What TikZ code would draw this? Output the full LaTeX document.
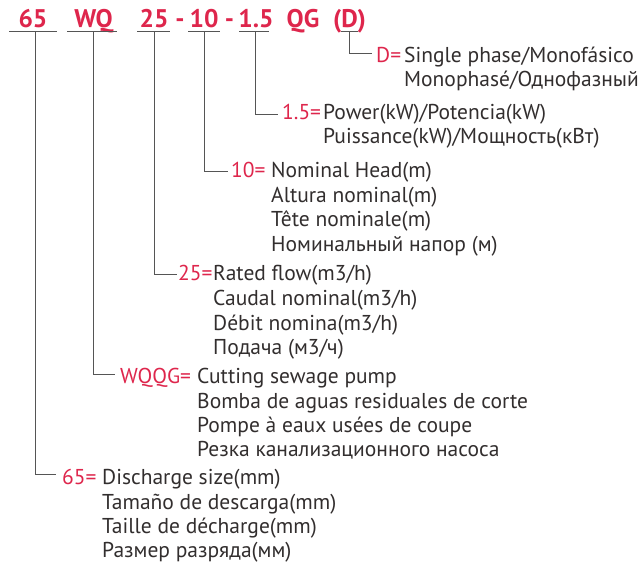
\documentclass[tikz,border=0pt]{standalone}
\usepackage{fontspec}
\setmainfont{PT Sans}
\definecolor{codered}{RGB}{222,38,76}
\definecolor{txt}{RGB}{50,46,46}
\definecolor{ln}{RGB}{85,85,85}
\begin{document}
\begin{tikzpicture}[x=1pt,y=-1pt,
  hdr/.style={font=\fontsize{25.5}{25.5}\selectfont\bfseries, text=codered, anchor=base, inner sep=0},
  lab/.style={font=\fontsize{21.5}{21.5}\selectfont, text=codered, anchor=base west, inner sep=0},
  desc/.style={font=\fontsize{21.5}{21.5}\selectfont, text=txt, anchor=base west, inner sep=0},
  conn/.style={draw=ln, line width=1pt},
]
\useasboundingbox (0,0) rectangle (644,563);

% header
\node[hdr] (h65) at (33,27) {65};
\node[hdr] (hWQ) at (93.5,27) {WQ};
\node[hdr] (h25) at (154,27) {25};
\node[hdr] (hd1) at (180,27) {-};
\node[hdr] (h10) at (204,27) {10};
\node[hdr] (hd2) at (229.5,27) {-};
\node[hdr] (h15) at (256,27) {1.5};
\node[hdr] (hQG) at (303,27) {QG};
\node[hdr] (hD) at (349.5,27) {(D)};

% underlines
\draw[conn] (9,31) -- (57,31);
\draw[conn] (67,31) -- (117,31);
\draw[conn] (137,31) -- (170,31);
\draw[conn] (188,31) -- (220,31);
\draw[conn] (239,31) -- (269,31);
\draw[conn] (341,31) -- (358,31);
\coordinate (u65) at (35,31);
\coordinate (uWQ) at (93,31);
\coordinate (u25) at (154,31);
\coordinate (u10) at (204,31);
\coordinate (u15) at (255,31);
\coordinate (uD) at (349,31);

% D row
\node[lab] (rD) at (376,62) {D=};
\node[desc] (dD1) at (404,62) {Single phase/Monofásico};
\node[desc] (dD2) at (404,86) {Monophasé/Однофазный};
\draw[conn] (uD) |- ([xshift=-4pt,yshift=9pt]rD.base west);

% 1.5 row
\node[lab] (r15) at (282,119) {1.5=};
\node[desc] (d151) at (323,119) {Power(kW)/Potencia(kW)};
\node[desc] (d152) at (323,143) {Puissance(kW)/Мощность(кВт)};
\draw[conn] (u15) |- ([xshift=-4pt,yshift=5pt]r15.base west);

% 10 row
\node[lab] (r10) at (231,177) {10=};
\node[desc] (d101) at (271,177) {Nominal Head(m)};
\node[desc] (d102) at (271,202) {Altura nominal(m)};
\node[desc] (d103) at (271,226) {Tête nominale(m)};
\node[desc] (d104) at (271,251) {Номинальный напор (м)};
\draw[conn] (u10) |- ([xshift=-3pt,yshift=6pt]r10.base west);

% 25 row
\node[lab] (r25) at (178,280) {25=};
\node[desc] (d251) at (213,280) {Rated flow(m3/h)};
\node[desc] (d252) at (213,305) {Caudal nominal(m3/h)};
\node[desc] (d253) at (213,330) {Débit nomina(m3/h)};
\node[desc] (d254) at (213,354) {Подача (м3/ч)};
\draw[conn] (u25) |- ([xshift=-1pt,yshift=6pt]r25.base west);

% WQQG row
\node[lab] (rWQ) at (120,383) {WQQG=};
\node[desc] (dWQ1) at (197,383) {Cutting sewage pump};
\node[desc] (dWQ2) at (197,408) {Bomba de aguas residuales de corte};
\node[desc] (dWQ3) at (197,432) {Pompe à eaux usées de coupe};
\node[desc] (dWQ4) at (197,456) {Резка канализационного насоса};
\draw[conn] (uWQ) |- ([xshift=-5pt,yshift=9pt]rWQ.base west);

% 65 row
\node[lab] (r65) at (62,484) {65=};
\node[desc] (d651) at (102,484) {Discharge size(mm)};
\node[desc] (d652) at (102,509) {Tamaño de descarga(mm)};
\node[desc] (d653) at (102,533) {Taille de décharge(mm)};
\node[desc] (d654) at (102,557) {Размер разряда(мм)};
\draw[conn] (u65) |- ([xshift=-6pt,yshift=10pt]r65.base west);
\end{tikzpicture}
\end{document}
